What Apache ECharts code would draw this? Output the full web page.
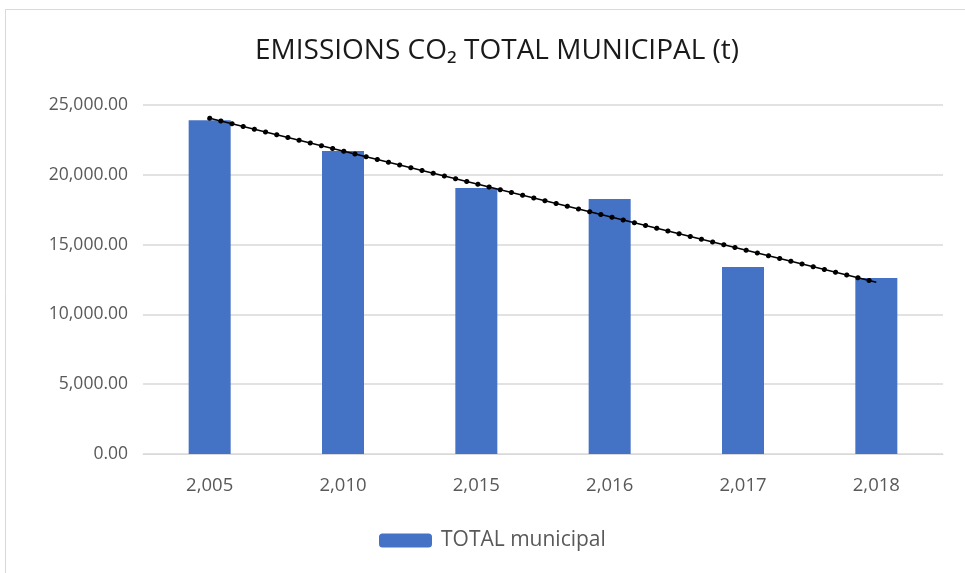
<!DOCTYPE html>
<html>
<head>
<meta charset="utf-8">
<script src="https://cdn.jsdelivr.net/npm/echarts@6/dist/echarts.min.js"></script>
<style>html,body{margin:0;padding:0;background:#fff}#c{width:965px;height:573px}</style>
</head>
<body>
<div id="c"></div>
<script>
var categories = ['2,005', '2,010', '2,015', '2,016', '2,017', '2,018'];
var totalMunicipal = [23900, 21700, 19050, 18270, 13400, 12600];
// linear trendline endpoints (first and last category)
var trendValues = [24050, null, null, null, null, 12300];
var yTicks = { min: 0, max: 25000, interval: 5000 };

var FONT = '"Open Sans", "Noto Sans", sans-serif';
var chart = echarts.init(document.getElementById('c'), null, { renderer: 'canvas' });
chart.setOption({
  animation: false,
  backgroundColor: '#ffffff',
  graphic: [{
    type: 'rect', shape: { x: 5.5, y: 9.5, width: 970, height: 580 },
    style: { fill: 'none', stroke: '#d9d9d9', lineWidth: 1 }, silent: true
  }],
  title: {
    text: 'EMISSIONS CO₂ TOTAL MUNICIPAL (t)',
    left: 250, top: 32,
    textStyle: { fontFamily: FONT, fontSize: 28, fontWeight: 'normal', color: '#1a1a1a' }
  },
  legend: {
    data: ['TOTAL municipal'],
    bottom: 17, left: 374,
    itemWidth: 53, itemHeight: 14, itemGap: 9,
    textStyle: { fontFamily: FONT, fontSize: 21, color: '#595959', padding: [0, 0, 0, 4] }
  },
  grid: { left: 143, right: 22, top: 105, bottom: 119 },
  xAxis: {
    type: 'category', data: categories,
    axisLine: { lineStyle: { color: '#d9d9d9' } },
    axisTick: { show: false },
    axisLabel: { fontFamily: FONT, fontSize: 18.5, color: '#595959', margin: 22 }
  },
  yAxis: {
    type: 'value', min: yTicks.min, max: yTicks.max, interval: yTicks.interval,
    splitLine: { lineStyle: { color: '#d9d9d9', width: 1.5 } },
    axisLine: { show: false }, axisTick: { show: false },
    axisLabel: {
      fontFamily: FONT, fontSize: 17.5, color: '#595959', margin: 15,
      formatter: function (v) { return v.toLocaleString('en-US', { minimumFractionDigits: 2, maximumFractionDigits: 2 }); }
    }
  },
  series: [
    {
      name: 'TOTAL municipal', type: 'bar', data: totalMunicipal,
      barWidth: '31.5%', itemStyle: { color: '#4472c4' }
    },
    {
      name: 'trend', type: 'line', data: trendValues, connectNulls: true,
      symbol: 'none', silent: true,
      lineStyle: { color: '#000', width: 1.5 }, z: 3
    },
    {
      name: 'trendDots', type: 'line', data: trendValues, connectNulls: true,
      symbol: 'none', silent: true,
      lineStyle: { color: '#000', width: 5, type: [0.01, 11.5], cap: 'round' }, z: 4
    }
  ]
});
</script>
</body>
</html>
